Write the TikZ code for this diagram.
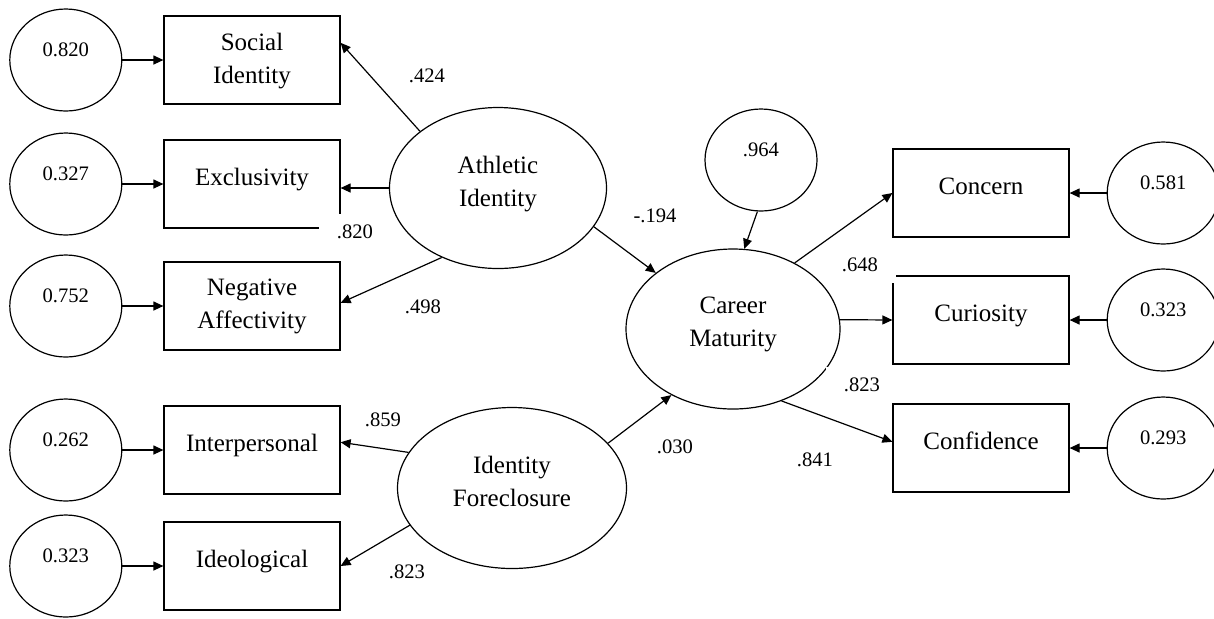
\documentclass[tikz,border=0pt]{standalone}
\usepackage{fontspec}
\setmainfont{Liberation Serif}
\usetikzlibrary{arrows.meta,positioning,shapes.geometric}
\tikzset{
 obs/.style={draw=black,line width=0.6pt,minimum width=88pt,minimum height=44pt,
   inner sep=0pt,align=center,font=\fontsize{12.5}{16.5}\selectfont,text depth=7pt},
 lat/.style={ellipse,draw=black,line width=0.6pt,inner sep=0pt,align=center,
   font=\fontsize{12.5}{16.5}\selectfont,text depth=7pt},
 err/.style={ellipse,draw=black,line width=0.6pt,minimum width=56pt,minimum height=51pt,
   inner sep=0pt,font=\fontsize{10.3}{12}\selectfont,text depth=10pt},
 coef/.style={fill=white,minimum width=36pt,minimum height=18pt,inner sep=0pt,
   font=\fontsize{10.3}{12}\selectfont},
 arrow/.style={-{Triangle[length=5pt,width=4.5pt]},line width=0.6pt,draw=black}
}
\begin{document}
\begin{tikzpicture}[x=0.5pt,y=-0.5pt]
 \useasboundingbox (0,0) rectangle (1214,618);
 \clip (0,0) rectangle (1214,618);
 % indicators, left
 \node[obs,text depth=2pt] (si) at (252,60) {Social\\Identity};
 \node[obs] (ex) at (252,184) {Exclusivity};
 \node[obs,text depth=2pt] (na) at (252,306) {Negative\\Affectivity};
 \node[obs] (ip) at (252,450) {Interpersonal};
 \node[obs] (ideo) at (252,566) {Ideological};
 \node[err,left=20.5pt of si] (esi) {0.820};
 \node[err,left=20.5pt of ex] (eex) {0.327};
 \node[err,left=20.5pt of na] (ena) {0.752};
 \node[err,left=20.5pt of ip] (eip) {0.262};
 \node[err,left=20.5pt of ideo] (eideo) {0.323};
 % latent variables
 \node[lat,minimum width=108.5pt,minimum height=80.5pt] (ai) at (498,188) {Athletic\\Identity};
 \node[lat,minimum width=114.5pt,minimum height=80.5pt] (idf) at (512,488) {Identity\\Foreclosure};
 \node[lat,minimum width=107pt,minimum height=80pt] (cm) at (733,329) {Career\\Maturity};
 \node[err] (dcm) at (761,160) {.964};
 % indicators, right
 \node[obs] (con) at (981,193) {Concern};
 \node[obs] (cur) at (981,320) {Curiosity};
 \node[obs] (conf) at (981,448) {Confidence};
 \node[err,right=18.5pt of con] (econ) {0.581};
 \node[err,right=18.5pt of cur] (ecur) {0.323};
 \node[err,right=18.5pt of conf] (econf) {0.293};
 % coefficients
 \node[coef] (lsi) at (427,76) {.424};
 \node[coef] (lex) at (355,232) {.820};
 \node[coef] (lna) at (423,307) {.498};
 \node[coef] (lip) at (383,420) {.859};
 \node[coef] (lideo) at (407,572) {.823};
 \node[coef] (lai) at (655,216) {-.194};
 \node[coef] (lidf) at (675,447) {.030};
 \node[coef] (lcon) at (860,265) {.648};
 \node[coef] (lcur) at (862,385) {.823};
 \node[coef] (lconf) at (815,460) {.841};
 % paths
 \draw[arrow] (esi) -- (si);
 \draw[arrow] (eex) -- (ex);
 \draw[arrow] (ena) -- (na);
 \draw[arrow] (eip) -- (ip);
 \draw[arrow] (eideo) -- (ideo);
 \draw[arrow] (ai.144) -- (si.11);
 \draw[arrow] (ai) -- (ai -| ex.east);
 \draw[arrow] (ai.231) -- (na.2);
 \draw[arrow] (idf.161) -- (ip.5);
 \draw[arrow] (idf.200) -- (ideo.east);
 \draw[arrow] (ai.338) -- (cm.144);
 \draw[arrow] (idf.25) -- (cm.227);
 \draw[arrow] (dcm.266) -- (cm.82);
 \draw[arrow] (cm.47) -- (con.west);
 \draw[arrow] (cm.5) -- (cur.west);
 \draw[arrow] (cm.304) -- (conf.176);
 \draw[arrow] (econ) -- (con);
 \draw[arrow] (ecur) -- (cur);
 \draw[arrow] (econf) -- (conf);
\end{tikzpicture}
\end{document}
